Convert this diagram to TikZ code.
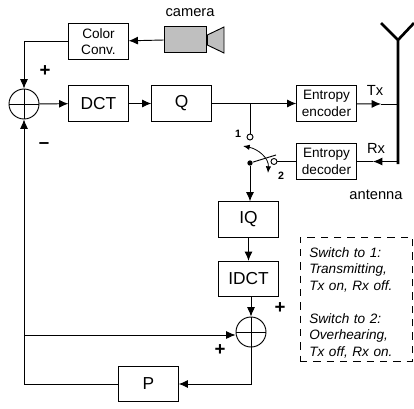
\documentclass[tikz,border=0pt]{standalone}
\usepackage{fontspec}
\setmainfont{Liberation Sans}
\usetikzlibrary{arrows.meta}
\begin{document}
\begin{tikzpicture}
   [
     x = 0.75pt,
     y = -0.75pt,
     every path/.style  = {line width=0.7pt},
     sig/.style         = {-{Latex[length=7pt,width=6pt]}},
     block/.style       = {shape=rectangle, draw, align=center,
     inner sep=0pt, minimum width=44.5pt, minimum height=26.5pt,
     font=\fontsize{13pt}{15pt}\selectfont},
     smallblock/.style  = {block, font=\fontsize{10.2pt}{12.5pt}\selectfont},
     adder/.style       = {shape=circle, draw, inner sep=0pt, minimum size=22.5pt,
     path picture={\draw (path picture bounding box.west) -- (path picture bounding box.east)
       (path picture bounding box.north) -- (path picture bounding box.south);}},
     contact/.style     = {shape=circle, draw, fill=white, inner sep=0pt, minimum size=4.5pt},
     pivot/.style       = {shape=circle, fill=black, inner sep=0pt, minimum size=4pt},
     sign/.style        = {inner sep=0pt, font=\bfseries\fontsize{14pt}{14pt}\selectfont},
     tag/.style         = {inner sep=0pt, font=\fontsize{11pt}{13pt}\selectfont},
     swnum/.style       = {inner sep=0pt, font=\bfseries\fontsize{8pt}{9pt}\selectfont},
     note/.style        = {shape=rectangle, draw, dash pattern=on 5.5pt off 4.5pt, align=left,
     inner sep=0pt, minimum width=84pt, minimum height=93pt, text width=70pt,
     font=\itshape\fontsize{10.2pt}{12.2pt}\selectfont}
   ]
    \useasboundingbox (0,0) rectangle (414,408);

    % camera
    \node [draw, fill=black!25, inner sep=0pt, minimum width=32pt, minimum height=19pt] (cambody) at (185.5,39.5) {};
    \draw [fill=black!25] (cambody.east |- 0,35) -- (224,27) -- (224,53) -- (cambody.east |- 0,45) -- cycle;
    \node [tag] (camlabel) at (190,13) {camera};

    % blocks
    \node [smallblock] (color) at (98.5,41.5) {Color\\Conv.};
    \node [adder] (sumin) at (24,104) {};
    \node [block] (dct) at (98.5,103.5) {DCT};
    \node [block] (q) at (181.5,103.5) {Q};
    \node [smallblock] (enc) at (326.5,103.5) {Entropy\\encoder};
    \node [smallblock] (dec) at (326.5,161.5) {Entropy\\decoder};
    \node [block] (iq) at (248.5,219.5) {IQ};
    \node [block] (idct) at (248.5,279) {IDCT};
    \node [adder] (sumout) at (251,332) {};
    \node [block] (p) at (148.5,384) {P};

    % antenna
    \coordinate (anttop) at (398,40);
    \coordinate (antbot) at (398,164);
    \coordinate (armL) at (381,23);
    \coordinate (armR) at (414,23);
    \draw [line width=2pt] (antbot) -- (anttop) (armL) -- (anttop) -- (armR);
    \node [tag] (antlabel) at (376,195) {antenna};
    \node [tag] (txlabel) at (375,90) {Tx};
    \node [tag] (rxlabel) at (376,148) {Rx};

    % switch
    \coordinate (tap) at (250,104);
    \coordinate (txjoin) at (398,104);
    \coordinate (rxjoin) at (398,161.5);
    \coordinate (txhead) at (381,104);
    \coordinate (rxhead) at (373,161.5);
    \node [contact] (sw1) at (250,137) {};
    \node [contact] (sw2) at (274,161.5) {};
    \node [pivot] (swhub) at (250,163) {};
    \coordinate (swtip) at (276,155);
    \coordinate (swarcA) at (243,146);
    \coordinate (swarcB) at (268,173);
    \node [swnum] (num1) at (238,134) {1};
    \node [swnum] (num2) at (281,176) {2};
    \draw (swhub) -- (swtip);
    \draw [{Latex[length=5pt,width=4pt]}-{Latex[length=5pt,width=4pt]}, line width=0.6pt]
      (swarcA) .. controls (258,149) and (269,158) .. (swarcB);

    % forward path
    \draw [sig] (cambody) -- (color);
    \draw [sig] (color) -| (sumin);
    \draw [sig] (sumin) -- (dct);
    \draw [sig] (dct) -- (q);
    \draw [sig] (q) -- (enc);
    \draw (tap) -- (sw1);
    \draw [sig] (enc) -- (txhead);
    \draw (txhead) -- (txjoin);
    \draw [sig] (rxjoin) -- (rxhead);
    \draw (rxhead) -- (dec);
    \draw (dec) -- (sw2);
    \draw [sig] (swhub) -- (swhub |- iq.north);
    \draw [sig] (iq.south -| idct) -- (idct);
    \draw [sig] (idct.south -| sumout) -- (sumout);

    % feedback
    \coordinate (fbtap) at (24,335);
    \coordinate (fbcorner) at (24,384);
    \draw [sig] (fbtap) -- (sumout.west |- fbtap);
    \draw [sig] (sumout) |- (p);
    \draw [sig] (p) -- (fbcorner) -- (sumin);

    % signs
    \node [sign] (plusA) at (45,71) {+};
    \node [sign] (minusA) at (44,146) {--};
    \node [sign] (plusB) at (280,308) {+};
    \node [sign] (plusC) at (220,350) {+};

    % mode note
    \node [note] (modes) at (356,299) {\rule{0pt}{13pt}Switch to 1:\\Transmitting,\\Tx on, Rx off.\\[13pt]Switch to 2:\\Overhearing,\\Tx off, Rx on.};
    \end{tikzpicture}
\end{document}
